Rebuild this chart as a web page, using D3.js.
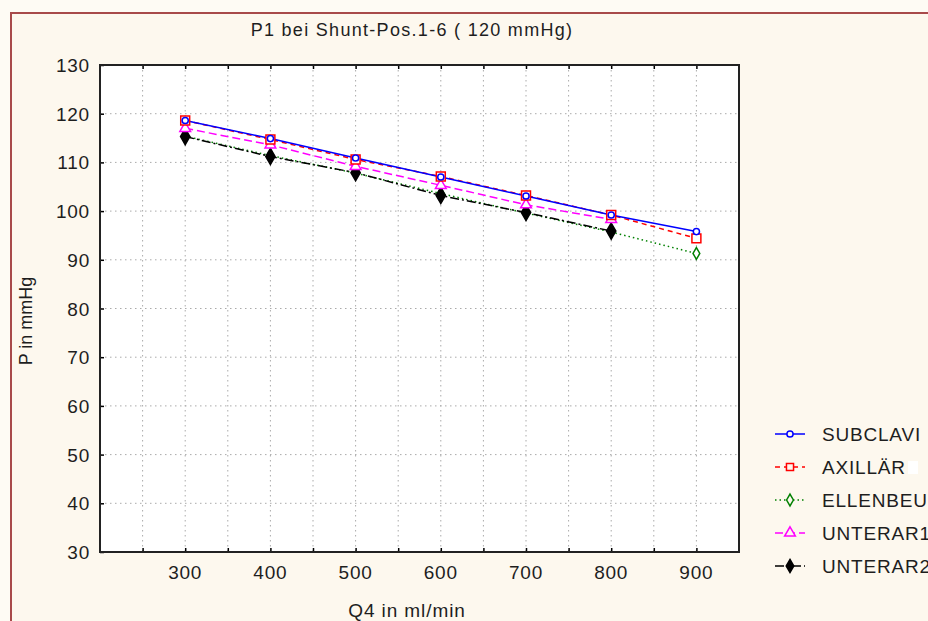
<!DOCTYPE html>
<html>
<head>
<meta charset="utf-8">
<script src="https://cdn.jsdelivr.net/npm/d3@7"></script>
<style>
  html, body { margin: 0; padding: 0; background: #fefbf4; }
  svg { display: block; font-family: Arial, "Liberation Sans", sans-serif; }
</style>
</head>
<body>
<svg id="chart" width="928" height="621"></svg>
<script>
// Flow rates Q4 (ml/min)
const flows = [300, 400, 500, 600, 700, 800, 900];

// Pressure P1 (mmHg) per shunt position
const subclavi = [118.6, 114.9, 110.9, 107.0, 103.1, 99.2, 95.8];
const axillaer = [118.6, 114.7, 110.6, 107.1, 103.2, 99.2, 94.4];
const ellenbeu = [115.4, 111.4, 107.8, 103.6, 99.6, 95.7, 91.3];
const unterar1 = [117.0, 113.6, 109.2, 105.3, 101.3, 98.3];
const unterar2 = [115.3, 111.2, 107.9, 103.2, 99.7, 95.9];

const seriesNames = ["SUBCLAVI", "AXILLÄR", "ELLENBEU", "UNTERAR1", "UNTERAR2"];
const seriesValues = [subclavi, axillaer, ellenbeu, unterar1, unterar2];

const xTicks = [300, 400, 500, 600, 700, 800, 900];
const yTicks = [30, 40, 50, 60, 70, 80, 90, 100, 110, 120, 130];

const titleText = "P1 bei Shunt-Pos.1-6 ( 120 mmHg)";
const xLabel = "Q4 in ml/min";
const yLabel = "P in mmHg";

// Visual style per series
const styles = [
  { color: "#0000ff", dash: null, marker: "circle", fill: "white", size: 30 },
  { color: "#ff0000", dash: "5,4", marker: "square", fill: "white", size: 80 },
  { color: "#008000", dash: "1.5,3", marker: "diamond", fill: "white", size: 40 },
  { color: "#ff00ff", dash: "8,4", marker: "triangle", fill: "white", size: 50 },
  { color: "#000000", dash: "9,3,2,3", marker: "diamond", fill: "#000000", size: 75 }
];

const textColor = "#1e1e1e";
const svg = d3.select("#chart");

// Outer frame
svg.append("rect")
  .attr("x", 11).attr("y", 13)
  .attr("width", 940).attr("height", 640)
  .attr("fill", "#fdf8ee")
  .attr("stroke", "#a84a4a").attr("stroke-width", 2);

const plot = { left: 100, top: 65, right: 739, bottom: 552 };

const x = d3.scaleLinear().domain([200, 950]).range([plot.left, plot.right]);
const y = d3.scaleLinear().domain([30, 130]).range([plot.bottom, plot.top]);

// Plot background
svg.append("rect")
  .attr("x", plot.left).attr("y", plot.top)
  .attr("width", plot.right - plot.left).attr("height", plot.bottom - plot.top)
  .attr("fill", "white");

// Grid lines
const gridX = d3.range(250, 950, 50);
const grid = svg.append("g").attr("stroke", "#aaaaaa").attr("stroke-width", 1)
  .attr("stroke-dasharray", "1.5,3.5");
grid.selectAll("line.gx").data(gridX).join("line")
  .attr("x1", d => x(d)).attr("x2", d => x(d))
  .attr("y1", plot.top).attr("y2", plot.bottom);
grid.selectAll("line.gy").data(yTicks.slice(1, -1)).join("line")
  .attr("x1", plot.left).attr("x2", plot.right)
  .attr("y1", d => y(d)).attr("y2", d => y(d));

// Axes with inward ticks
const xAxisBottom = d3.axisBottom(x).tickValues(gridX).tickSize(-4).tickFormat("");
const xAxisTop = d3.axisTop(x).tickValues(gridX).tickSize(-4).tickFormat("");
const yAxisLeft = d3.axisLeft(y).tickValues(yTicks).tickSize(-4).tickFormat("");

svg.append("g").attr("transform", `translate(0,${plot.bottom})`).call(xAxisBottom)
  .call(g => g.select(".domain").remove())
  .selectAll("line").attr("stroke", "#000").attr("stroke-width", 1.5);
svg.append("g").attr("transform", `translate(0,${plot.top})`).call(xAxisTop)
  .call(g => g.select(".domain").remove())
  .selectAll("line").attr("stroke", "#000").attr("stroke-width", 1.5);
svg.append("g").attr("transform", `translate(${plot.left},0)`).call(yAxisLeft)
  .call(g => g.select(".domain").remove())
  .selectAll("line").attr("stroke", "#000").attr("stroke-width", 1.5);

// Plot border
svg.append("rect")
  .attr("x", plot.left).attr("y", plot.top)
  .attr("width", plot.right - plot.left).attr("height", plot.bottom - plot.top)
  .attr("fill", "none").attr("stroke", "#222").attr("stroke-width", 2);

// Tick labels
svg.append("g").selectAll("text").data(xTicks).join("text")
  .attr("x", d => x(d)).attr("y", 579)
  .attr("text-anchor", "middle")
  .attr("font-size", 19).attr("letter-spacing", 0.8).attr("fill", textColor)
  .text(d => d);
svg.append("g").selectAll("text").data(yTicks).join("text")
  .attr("x", 90).attr("y", d => y(d) + 7)
  .attr("text-anchor", "end")
  .attr("font-size", 19).attr("letter-spacing", 0.8).attr("fill", textColor)
  .text(d => d);

// Titles
svg.append("text").attr("x", 412).attr("y", 36)
  .attr("text-anchor", "middle").attr("font-size", 18).attr("letter-spacing", 1.3)
  .attr("fill", textColor)
  .text(titleText);
svg.append("text").attr("x", 407).attr("y", 617)
  .attr("text-anchor", "middle").attr("font-size", 19).attr("letter-spacing", 0.9)
  .attr("fill", textColor)
  .text(xLabel);
svg.append("text")
  .attr("transform", "translate(32,321) rotate(-90)")
  .attr("text-anchor", "middle").attr("font-size", 18).attr("fill", textColor)
  .text(yLabel);

const symbolFor = name => ({
  circle: d3.symbolCircle, square: d3.symbolSquare,
  diamond: d3.symbolDiamond, triangle: d3.symbolTriangle
})[name];

// Series lines and markers
const line = d3.line().x(d => x(d[0])).y(d => y(d[1]));
const lineOrder = [2, 4, 3, 1, 0];
lineOrder.forEach(i => {
  const st = styles[i];
  const pts = seriesValues[i].map((v, j) => [flows[j], v]);
  svg.append("path").datum(pts)
    .attr("d", line)
    .attr("fill", "none")
    .attr("stroke", st.color).attr("stroke-width", 1.5)
    .attr("stroke-dasharray", st.dash);
});
lineOrder.forEach(i => {
  const st = styles[i];
  const pts = seriesValues[i].map((v, j) => [flows[j], v]);
  svg.append("g").selectAll("path").data(pts).join("path")
    .attr("transform", d => `translate(${x(d[0])},${y(d[1])})`)
    .attr("d", d3.symbol(symbolFor(st.marker), st.size))
    .attr("fill", st.fill)
    .attr("stroke", st.color).attr("stroke-width", 1.5);
});

// Legend (entries run past the right edge of the frame)
const legend = svg.append("g");
seriesNames.forEach((name, i) => {
  const st = styles[i];
  const ly = 434 + i * 33;
  legend.append("line")
    .attr("x1", 775).attr("x2", 805).attr("y1", ly).attr("y2", ly)
    .attr("stroke", st.color).attr("stroke-width", 1.5)
    .attr("stroke-dasharray", st.dash);
  legend.append("path")
    .attr("transform", `translate(790,${ly})`)
    .attr("d", d3.symbol(symbolFor(st.marker), Math.min(st.size, 50)))
    .attr("fill", st.fill === "white" ? "#fdf8ee" : st.fill)
    .attr("stroke", st.color).attr("stroke-width", 1.5);
  legend.append("text")
    .attr("x", 822).attr("y", ly + 7)
    .attr("font-size", 19).attr("letter-spacing", 0.8).attr("fill", textColor)
    .text(name);
});
// Small blank patch after the second legend entry
legend.append("rect")
  .attr("x", 908).attr("y", 461).attr("width", 10).attr("height", 13)
  .attr("fill", "white");
</script>
</body>
</html>
